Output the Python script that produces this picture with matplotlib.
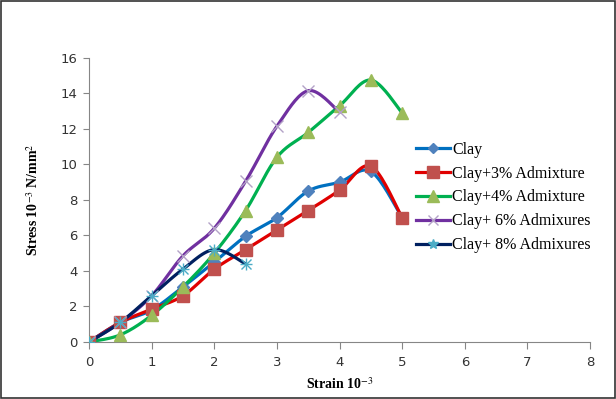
import numpy as np
import matplotlib.pyplot as plt
from matplotlib.patches import Rectangle
from matplotlib.lines import Line2D

plt.rcParams["mathtext.fontset"] = "stix"

strain = [0, 0.5, 1, 1.5, 2, 2.5, 3, 3.5, 4, 4.5, 5]

clay = [0, 1.1, 1.8, 3.1, 4.5, 5.95, 7.0, 8.5, 9.0, 9.6, 7.0]
clay_3 = [0, 1.1, 1.85, 2.6, 4.1, 5.2, 6.3, 7.4, 8.55, 9.9, 7.0]
clay_4 = [0, 0.4, 1.5, 3.1, 5.0, 7.4, 10.4, 11.8, 13.3, 14.75, 12.9]
clay_6 = [0, 1.1, 2.6, 4.85, 6.4, 9.05, 12.15, 14.15, 12.95]
clay_8 = [0, 1.1, 2.6, 4.1, 5.2, 4.4]

labels = ["Clay", "Clay+3% Admixture", "Clay+4% Admixture",
          "Clay+ 6% Admixures", "Clay+ 8% Admixures"]


def smooth(x, y, n=20):
    # catmull-rom style smoothing like excel's smoothed line
    x = np.asarray(x, float)
    y = np.asarray(y, float)
    px = np.concatenate([[x[0]], x, [x[-1]]])
    py = np.concatenate([[y[0]], y, [y[-1]]])
    xs, ys = [], []
    t = np.linspace(0, 1, n)
    for i in range(1, len(px) - 2):
        p0 = np.array([px[i], py[i]])
        p3 = np.array([px[i + 1], py[i + 1]])
        p1 = p0 + (np.array([px[i + 1], py[i + 1]]) - np.array([px[i - 1], py[i - 1]])) / 6
        p2 = p3 - (np.array([px[i + 2], py[i + 2]]) - np.array([px[i], py[i]])) / 6
        b = ((1 - t) ** 3)[:, None] * p0 + (3 * (1 - t) ** 2 * t)[:, None] * p1 \
            + (3 * (1 - t) * t ** 2)[:, None] * p2 + (t ** 3)[:, None] * p3
        xs.extend(b[:, 0])
        ys.extend(b[:, 1])
    return xs, ys


series = [
    (clay, "#0070C0", "#4F81BD", "D", 6),
    (clay_3, "#E00000", "#C0504D", "s", 9),
    (clay_4, "#00B050", "#9BBB59", "^", 9),
    (clay_6, "#7030A0", "#B3A2C7", "x", 8),
    (clay_8, "#002060", "#4BACC6", "*", 0),
]

fig = plt.figure(figsize=(6.16, 3.99), dpi=100)
ax = fig.add_axes([0.1445, 0.143, 0.8135, 0.712])

handles = []
for (vals, lc, mc, mk, ms), lab in zip(series, labels):
    xs = strain[:len(vals)]
    sx, sy = smooth(xs, vals)
    ax.plot(sx, sy, color=lc, lw=2.3, zorder=2)
    if mk == "*":
        ax.plot(xs, vals, ls="none", marker="+", ms=9, mew=1, color=mc, zorder=3)
        ax.plot(xs, vals, ls="none", marker="x", ms=7, mew=1, color=mc, zorder=3)
        h = Line2D([], [], color=lc, lw=2.3, marker="*", ms=7, mfc=mc, mec=mc)
    elif mk == "x":
        ax.plot(xs, vals, ls="none", marker="x", ms=ms, mew=1, color=mc, zorder=3)
        h = Line2D([], [], color=lc, lw=2.3, marker="x", ms=7, mew=1, mec=mc)
    else:
        ax.plot(xs, vals, ls="none", marker=mk, ms=ms, color=mc, mec=mc, zorder=3)
        h = Line2D([], [], color=lc, lw=2.3, marker=mk, ms=ms - 1, mfc=mc, mec=mc)
    handles.append(h)

ax.set_xlim(0, 8)
ax.set_ylim(0, 16)
ax.set_xticks(range(0, 9))
ax.set_yticks(range(0, 17, 2))
for s in ["top", "right"]:
    ax.spines[s].set_visible(False)
for s in ["left", "bottom"]:
    ax.spines[s].set_color("#868686")
ax.tick_params(axis="x", direction="out", length=5, color="#868686",
               labelsize=9.5, labelcolor="#333333", pad=5)
ax.tick_params(axis="y", direction="out", length=4, color="#868686",
               labelsize=9.5, labelcolor="#333333", pad=4)

ax.set_xlabel("Strain 10$^{-3}$", family="Liberation Serif", fontweight="bold",
              fontsize=10, labelpad=5)
ax.set_ylabel("Stress 10$^{-3}$ N/mm$^{2}$", family="Liberation Serif",
              fontweight="bold", fontsize=10, labelpad=14)

leg = ax.legend(handles, labels, loc="upper left", bbox_to_anchor=(0.64, 0.728),
                frameon=False, prop={"family": "Liberation Serif", "size": 11.5},
                handlelength=2.1, handletextpad=0.15, labelspacing=0.5,
                borderaxespad=0)

fig.patches.append(Rectangle((0.002, 0.003), 0.996, 0.994, transform=fig.transFigure,
                             fill=False, edgecolor="#333333", lw=1.2))

plt.savefig("out.png", dpi=100)
